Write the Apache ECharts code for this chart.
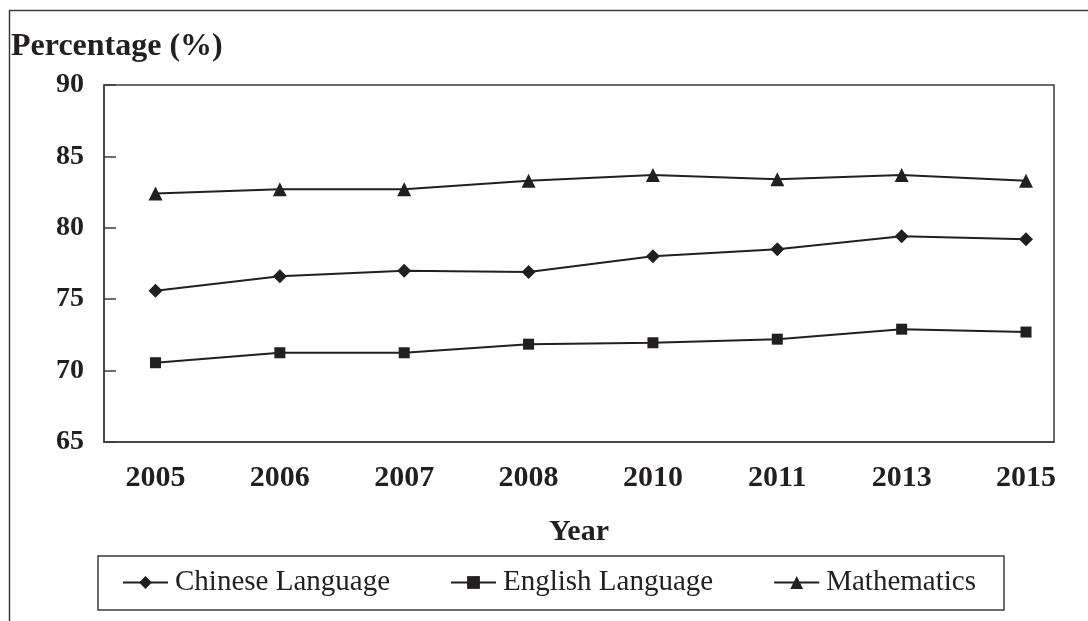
<!DOCTYPE html>
<html>
<head>
<meta charset="utf-8">
<script src="https://cdn.jsdelivr.net/npm/echarts@6/dist/echarts.min.js"></script>
<style>
  html, body { margin: 0; padding: 0; background: #fff; }
  #chart { width: 1088px; height: 621px; }
</style>
</head>
<body>
<div id="chart"></div>
<script>
// Survey years (unevenly spaced, drawn as equal steps)
const years = ['2005', '2006', '2007', '2008', '2010', '2011', '2013', '2015']
const chineseLanguage = [75.6, 76.6, 77.0, 76.9, 78.0, 78.5, 79.4, 79.2]
const englishLanguage = [70.55, 71.25, 71.25, 71.85, 71.95, 72.2, 72.9, 72.7]
const mathematics = [82.4, 82.7, 82.7, 83.3, 83.7, 83.4, 83.7, 83.3]
const yTicks = [65, 70, 75, 80, 85, 90]

const serif = "'Liberation Serif', 'Times New Roman', serif"
const ink = '#231f20'
const frame = '#3c3c3c'

const chart = echarts.init(document.getElementById('chart'))

const lineSeries = (name, data, symbol, size) => ({
  name,
  type: 'line',
  data: data.map((v, i) => [i, v]),
  symbol,
  symbolSize: size,
  showSymbol: true,
  lineStyle: { color: ink, width: 2 },
  itemStyle: { color: ink },
  animation: false
})

const option = {
  animation: false,
  graphic: [
    {
      type: 'rect',
      shape: { x: 9.5, y: 10.5, width: 1200, height: 700 },
      style: { fill: 'none', stroke: frame, lineWidth: 1.5 },
      silent: true
    }
  ],
  title: {
    text: 'Percentage (%)',
    left: 11,
    top: 31,
    padding: 0,
    textStyle: { fontFamily: serif, fontWeight: 'bold', fontSize: 32, color: ink }
  },
  grid: {
    left: 104,
    right: 34,
    top: 85,
    bottom: 179,
    show: true,
    borderColor: frame,
    borderWidth: 1.5
  },
  legend: {
    left: 98,
    top: 556,
    padding: [12, 28, 13, 24],
    itemGap: 60,
    itemWidth: 45,
    itemHeight: 16,
    borderColor: frame,
    borderWidth: 1.5,
    textStyle: { fontFamily: serif, fontSize: 29, color: ink, padding: [0, 0, 0, 2] },
    data: ['Chinese Language', 'English Language', 'Mathematics']
  },
  xAxis: {
    type: 'value',
    min: -0.414,
    max: 7.225,
    name: 'Year',
    nameLocation: 'middle',
    nameGap: 75,
    nameTextStyle: { fontFamily: serif, fontWeight: 'bold', fontSize: 30, color: ink },
    axisLine: { show: true, onZero: false, lineStyle: { color: frame, width: 1.5 } },
    axisTick: { show: false },
    splitLine: { show: false },
    axisLabel: {
      customValues: years.map((_, i) => i),
      formatter: v => years[Math.round(v)] ?? '',
      margin: 21,
      fontFamily: serif,
      fontWeight: 'bold',
      fontSize: 30,
      color: ink
    }
  },
  yAxis: {
    type: 'value',
    min: 65,
    max: 90,
    interval: 5,
    axisLine: { show: true, onZero: false, lineStyle: { color: frame, width: 1.5 } },
    axisTick: { show: true, inside: true, length: 12, lineStyle: { color: frame, width: 1.5 } },
    splitLine: { show: false },
    axisLabel: {
      margin: 20,
      fontFamily: serif,
      fontWeight: 'bold',
      fontSize: 28,
      color: ink,
      formatter: v => (yTicks.includes(v) ? String(v) : '')
    }
  },
  series: [
    lineSeries('Chinese Language', chineseLanguage, 'diamond', 14),
    lineSeries('English Language', englishLanguage, 'rect', 11),
    lineSeries('Mathematics', mathematics, 'triangle', 14)
  ]
}

chart.setOption(option)
</script>
</body>
</html>
